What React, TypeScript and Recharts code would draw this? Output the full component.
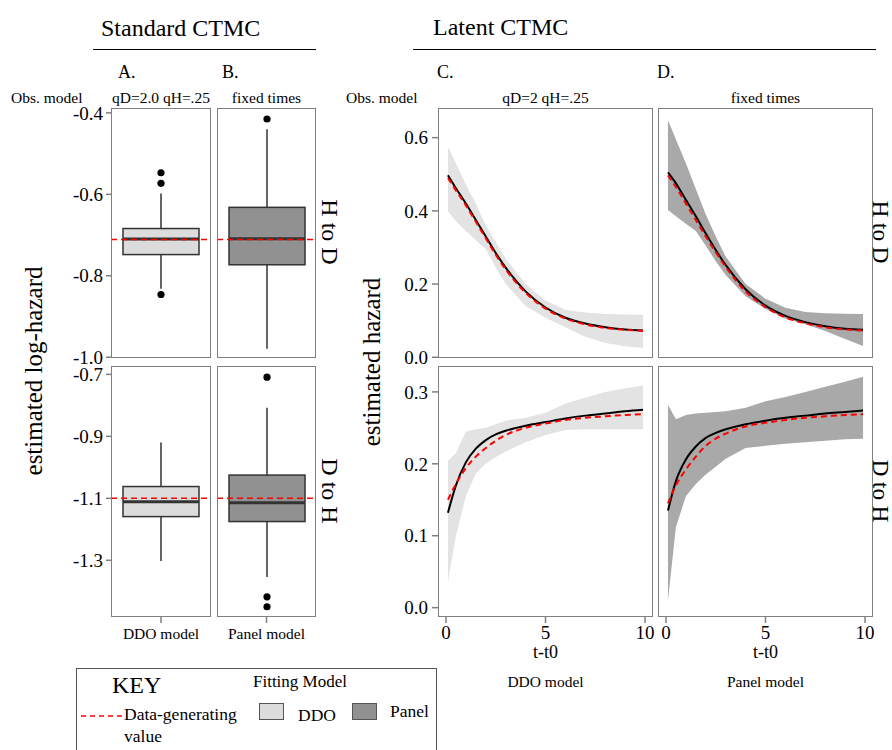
import React from 'react';
import { ComposedChart, Bar, Area, Line, XAxis, YAxis, ReferenceLine } from 'recharts';

const FONT = "'Liberation Serif', 'Times New Roman', Times, serif";
const FRAME = '#7f7f7f';
const DARK = '#333333';
const RED = '#ff0000';
const DDO_FILL = '#dcdcdc';
const PANEL_FILL = '#919191';
const PAD = 12;

// ---- Standard CTMC: box plot summaries (DDO model, Panel model) ----
const boxGroups = ['DDO model', 'Panel model'];

const hdWhiskerLow = [-0.832, -0.979];
const hdQ1 = [-0.748, -0.773];
const hdMedian = [-0.71, -0.709];
const hdQ3 = [-0.684, -0.632];
const hdWhiskerHigh = [-0.598, -0.44];
const hdOutliers = [[-0.547, -0.573, -0.846], [-0.415]];
const hdTrue = -0.711;

const dhWhiskerLow = [-1.302, -1.354];
const dhQ1 = [-1.159, -1.175];
const dhMedian = [-1.111, -1.114];
const dhQ3 = [-1.062, -1.025];
const dhWhiskerHigh = [-0.92, -0.808];
const dhOutliers = [[], [-0.709, -1.418, -1.45]];
const dhTrue = -1.1;

const hdLogTicks = [-1.0, -0.8, -0.6, -0.4];
const dhLogTicks = [-1.3, -1.1, -0.9, -0.7];

// ---- Latent CTMC: hazard curves over t - t0 ----
const tGrid = [0.1, 0.5, 1, 1.5, 2, 2.5, 3, 4, 5, 6, 7, 8, 9, 9.9];

// H to D, DDO model
const hdDdoFit = [0.497, 0.462, 0.42, 0.375, 0.33, 0.285, 0.245, 0.18, 0.136, 0.108, 0.092, 0.082, 0.076, 0.073];
const hdDdoTrue = [0.49, 0.456, 0.415, 0.37, 0.325, 0.28, 0.24, 0.176, 0.133, 0.106, 0.09, 0.08, 0.075, 0.072];
const hdDdoLo = [0.398, 0.372, 0.345, 0.32, 0.296, 0.245, 0.2, 0.14, 0.108, 0.082, 0.056, 0.039, 0.03, 0.025];
const hdDdoHi = [0.575, 0.53, 0.472, 0.42, 0.36, 0.315, 0.27, 0.2, 0.155, 0.13, 0.122, 0.118, 0.117, 0.116];

// H to D, Panel model
const hdPanelFit = [0.505, 0.475, 0.43, 0.385, 0.338, 0.293, 0.252, 0.186, 0.141, 0.113, 0.096, 0.085, 0.078, 0.075];
const hdPanelTrue = [0.497, 0.465, 0.42, 0.375, 0.33, 0.287, 0.247, 0.18, 0.137, 0.109, 0.093, 0.082, 0.076, 0.073];
const hdPanelLo = [0.402, 0.385, 0.365, 0.345, 0.305, 0.262, 0.225, 0.167, 0.132, 0.105, 0.09, 0.072, 0.05, 0.031];
const hdPanelHi = [0.648, 0.595, 0.53, 0.46, 0.39, 0.33, 0.275, 0.2, 0.16, 0.135, 0.124, 0.12, 0.119, 0.118];

// D to H, DDO model
const dhDdoFit = [0.132, 0.17, 0.202, 0.221, 0.233, 0.241, 0.246, 0.253, 0.258, 0.263, 0.267, 0.27, 0.273, 0.275];
const dhDdoTrue = [0.15, 0.172, 0.194, 0.21, 0.222, 0.232, 0.24, 0.25, 0.256, 0.261, 0.264, 0.266, 0.268, 0.269];
const dhDdoLo = [0.036, 0.1, 0.155, 0.187, 0.2, 0.209, 0.217, 0.23, 0.24, 0.247, 0.248, 0.248, 0.248, 0.248];
const dhDdoHi = [0.204, 0.215, 0.245, 0.248, 0.25, 0.255, 0.26, 0.264, 0.271, 0.284, 0.292, 0.3, 0.305, 0.309];

// D to H, Panel model
const dhPanelFit = [0.135, 0.176, 0.206, 0.224, 0.236, 0.243, 0.248, 0.255, 0.26, 0.264, 0.267, 0.27, 0.272, 0.274];
const dhPanelTrue = [0.145, 0.17, 0.192, 0.21, 0.225, 0.235, 0.242, 0.252, 0.257, 0.261, 0.264, 0.266, 0.268, 0.269];
const dhPanelLo = [0.01, 0.112, 0.155, 0.172, 0.185, 0.196, 0.207, 0.222, 0.225, 0.228, 0.23, 0.232, 0.234, 0.235];
const dhPanelHi = [0.282, 0.262, 0.268, 0.27, 0.271, 0.272, 0.273, 0.278, 0.287, 0.293, 0.3, 0.307, 0.314, 0.321];

const tTicks = [0, 5, 10];
const hdHazTicks = [0, 0.2, 0.4, 0.6];
const dhHazTicks = [0, 0.1, 0.2, 0.3];

const X_DOMAIN = [-0.4, 10.4];

const curveRows = (fit: number[], truth: number[], lo: number[], hi: number[]) =>
  tGrid.map((t, i) => ({ t, fit: fit[i], truth: truth[i], band: [lo[i], hi[i]] }));

// box drawn from the bar's [q1, q3] range; the other stats reuse the same scale
const BoxShape = (props: any) => {
  const { x, y, width, height, payload, fill } = props;
  const top = Math.min(y, y + height);
  const h = Math.abs(height);
  const [lo, hi] = payload.box;
  const k = h / (hi - lo);
  const py = (v: number) => top + (hi - v) * k;
  const cx = x + width / 2;
  return (
    <g>
      <line x1={cx} x2={cx} y1={py(payload.high)} y2={top} stroke={DARK} strokeWidth={1.5} />
      <line x1={cx} x2={cx} y1={top + h} y2={py(payload.low)} stroke={DARK} strokeWidth={1.5} />
      <rect x={x} y={top} width={width} height={h} fill={fill} stroke={DARK} strokeWidth={1.5} />
      <line x1={x} x2={x + width} y1={py(payload.med)} y2={py(payload.med)} stroke={DARK} strokeWidth={3} />
      {payload.outliers.map((v: number, i: number) => (
        <circle key={i} cx={cx} cy={py(v)} r={3.6} fill="#000" />
      ))}
    </g>
  );
};

const Frame = ({ left, top, width, height }: any) => (
  <div
    style={{
      position: 'absolute', left, top, width, height, boxSizing: 'border-box',
      border: `1.5px solid ${FRAME}`, pointerEvents: 'none',
    }}
  />
);

const Txt = ({ x, y, size, center, rotate, children }: any) => (
  <div
    style={{
      position: 'absolute', left: x, top: y, fontSize: size, fontFamily: FONT, lineHeight: 1,
      whiteSpace: 'nowrap', color: '#000',
      transform: `translate(${center ? '-50%' : '0'}, -50%)${rotate ? ` rotate(${rotate}deg)` : ''}`,
      transformOrigin: center ? 'center' : 'left center',
    }}
  >
    {children}
  </div>
);

const tickStyle = { fontSize: 19, fill: '#000', fontFamily: FONT };

function BoxPanel(props: any) {
  const { idx, low, q1, med, q3, high, outliers, truth, domain, ticks, showY, showX, left, top, plotW, plotH, fill } = props;
  const yW = showY ? 71 : 0;
  const xH = showX ? 34 : 0;
  const rows = [{
    group: boxGroups[idx], box: [q1[idx], q3[idx]], low: low[idx], med: med[idx], high: high[idx],
    outliers: outliers[idx],
  }];
  return (
    <>
      <div style={{ position: 'absolute', left: left - yW, top: top - PAD, fontFamily: FONT }}>
        <ComposedChart width={yW + plotW} height={plotH + xH + 2 * PAD} data={rows} margin={{ top: PAD, right: 0, bottom: PAD, left: 0 }}>
          <XAxis
            dataKey="group" type="category" hide={!showX} height={xH} axisLine={false} tickSize={6} tickMargin={5}
            tickLine={{ stroke: FRAME, strokeWidth: 1.5 }} tick={{ fontSize: 15.5, fill: '#000', fontFamily: FONT }}
          />
          <YAxis
            type="number" domain={domain} ticks={ticks} interval={0} allowDataOverflow hide={!showY} width={yW}
            axisLine={false} tickSize={5} tickMargin={3} tickLine={{ stroke: FRAME, strokeWidth: 1.5 }}
            tickFormatter={(v: number) => v.toFixed(1)} tick={tickStyle}
          />
          <Bar dataKey="box" fill={fill} barSize={76} shape={<BoxShape />} isAnimationActive={false} />
          <ReferenceLine y={truth} stroke={RED} strokeWidth={1.6} strokeDasharray="6 4" />
        </ComposedChart>
      </div>
      <Frame left={left} top={top} width={plotW} height={plotH} />
    </>
  );
}

function CurvePanel(props: any) {
  const { rows, bandFill, domain, ticks, showY, showX, left, top, plotW, plotH } = props;
  const yW = showY ? 50 : 0;
  const xH = showX ? 28 : 0;
  return (
    <>
      <div style={{ position: 'absolute', left: left - yW, top: top - PAD, fontFamily: FONT }}>
        <ComposedChart width={yW + plotW + PAD} height={plotH + xH + 2 * PAD} data={rows} margin={{ top: PAD, right: PAD, bottom: PAD, left: 0 }}>
          <XAxis
            dataKey="t" type="number" domain={X_DOMAIN} ticks={tTicks} interval={0} allowDataOverflow hide={!showX} height={xH}
            axisLine={false} tickSize={6} tickMargin={3} tickLine={{ stroke: FRAME, strokeWidth: 1.5 }} tick={tickStyle}
          />
          <YAxis
            type="number" domain={domain} ticks={ticks} interval={0} allowDataOverflow hide={!showY} width={yW}
            axisLine={false} tickSize={6} tickMargin={4} tickLine={{ stroke: FRAME, strokeWidth: 1.5 }}
            tickFormatter={(v: number) => v.toFixed(1)} tick={tickStyle}
          />
          <Area dataKey="band" type="linear" fill={bandFill} fillOpacity={1} stroke="none" isAnimationActive={false} />
          <Line dataKey="fit" type="monotone" stroke="#000" strokeWidth={2} dot={false} isAnimationActive={false} />
          <Line dataKey="truth" type="monotone" stroke={RED} strokeWidth={2} strokeDasharray="6 4" dot={false} isAnimationActive={false} />
        </ComposedChart>
      </div>
      <Frame left={left} top={top} width={plotW} height={plotH} />
    </>
  );
}

export default function App() {
  const topY = 108, topH = 250, botY = 366, botH = 251;
  const hdLogDomain = [-1.002, -0.388];
  const dhLogDomain = [-1.483, -0.673];
  const hdHazDomain = [-0.002, 0.681];
  const dhHazDomain = [-0.013, 0.336];
  return (
    <div style={{ position: 'absolute', left: 0, top: 0, width: 892, height: 750, overflow: 'hidden', background: '#fff', fontFamily: FONT }}>
      {/* headers */}
      <Txt x={101} y={28} size={24}>Standard CTMC</Txt>
      <div style={{ position: 'absolute', left: 93, top: 49, width: 223, borderTop: '1.5px solid #000' }} />
      <Txt x={433} y={27} size={24}>Latent CTMC</Txt>
      <div style={{ position: 'absolute', left: 413, top: 49, width: 463, borderTop: '1.5px solid #000' }} />

      <Txt x={118} y={72} size={18}>A.</Txt>
      <Txt x={222} y={72} size={18}>B.</Txt>
      <Txt x={437} y={72} size={18}>C.</Txt>
      <Txt x={657} y={72} size={18}>D.</Txt>

      <Txt x={11} y={98} size={15.5}>Obs. model</Txt>
      <Txt x={346} y={98} size={15.5}>Obs. model</Txt>
      <Txt x={161} y={98} size={15.5} center>qD=2.0 qH=.25</Txt>
      <Txt x={266.5} y={98} size={15.5} center>fixed times</Txt>
      <Txt x={545.5} y={98} size={15.5} center>qD=2 qH=.25</Txt>
      <Txt x={765.5} y={98} size={15.5} center>fixed times</Txt>

      {/* standard CTMC box plots */}
      <BoxPanel idx={0} low={hdWhiskerLow} q1={hdQ1} med={hdMedian} q3={hdQ3} high={hdWhiskerHigh} outliers={hdOutliers}
        truth={hdTrue} domain={hdLogDomain} ticks={hdLogTicks} showY showX={false} left={111} top={topY} plotW={100} plotH={topH} fill={DDO_FILL} />
      <BoxPanel idx={1} low={hdWhiskerLow} q1={hdQ1} med={hdMedian} q3={hdQ3} high={hdWhiskerHigh} outliers={hdOutliers}
        truth={hdTrue} domain={hdLogDomain} ticks={hdLogTicks} showY={false} showX={false} left={217} top={topY} plotW={99} plotH={topH} fill={PANEL_FILL} />
      <BoxPanel idx={0} low={dhWhiskerLow} q1={dhQ1} med={dhMedian} q3={dhQ3} high={dhWhiskerHigh} outliers={dhOutliers}
        truth={dhTrue} domain={dhLogDomain} ticks={dhLogTicks} showY showX left={111} top={botY} plotW={100} plotH={botH} fill={DDO_FILL} />
      <BoxPanel idx={1} low={dhWhiskerLow} q1={dhQ1} med={dhMedian} q3={dhQ3} high={dhWhiskerHigh} outliers={dhOutliers}
        truth={dhTrue} domain={dhLogDomain} ticks={dhLogTicks} showY={false} showX left={217} top={botY} plotW={99} plotH={botH} fill={PANEL_FILL} />

      {/* latent CTMC curves */}
      <CurvePanel rows={curveRows(hdDdoFit, hdDdoTrue, hdDdoLo, hdDdoHi)} bandFill="#e3e3e3" domain={hdHazDomain} ticks={hdHazTicks}
        showY showX={false} left={438} top={topY} plotW={215} plotH={topH} />
      <CurvePanel rows={curveRows(hdPanelFit, hdPanelTrue, hdPanelLo, hdPanelHi)} bandFill="#a9a9a9" domain={hdHazDomain} ticks={hdHazTicks}
        showY={false} showX={false} left={658} top={topY} plotW={215} plotH={topH} />
      <CurvePanel rows={curveRows(dhDdoFit, dhDdoTrue, dhDdoLo, dhDdoHi)} bandFill="#e3e3e3" domain={dhHazDomain} ticks={dhHazTicks}
        showY showX left={438} top={botY} plotW={215} plotH={botH} />
      <CurvePanel rows={curveRows(dhPanelFit, dhPanelTrue, dhPanelLo, dhPanelHi)} bandFill="#a9a9a9" domain={dhHazDomain} ticks={dhHazTicks}
        showY={false} showX left={658} top={botY} plotW={215} plotH={botH} />

      {/* strip labels and axis titles */}
      <Txt x={330} y={232} size={24} center rotate={90}>H to D</Txt>
      <Txt x={330} y={491} size={24} center rotate={90}>D to H</Txt>
      <Txt x={880} y={232} size={23} center rotate={90}>H to D</Txt>
      <Txt x={880} y={491} size={23} center rotate={90}>D to H</Txt>
      <Txt x={33} y={371} size={25} center rotate={-90}>estimated log-hazard</Txt>
      <Txt x={371} y={362} size={25} center rotate={-90}>estimated hazard</Txt>

      <Txt x={545.5} y={652} size={18} center>t-t0</Txt>
      <Txt x={765.5} y={652} size={18} center>t-t0</Txt>
      <Txt x={545.5} y={682} size={15.5} center>DDO model</Txt>
      <Txt x={765.5} y={682} size={15.5} center>Panel model</Txt>

      {/* key */}
      <div style={{ position: 'absolute', left: 76, top: 668, width: 361, height: 100, boxSizing: 'border-box', border: '1.5px solid #555' }} />
      <Txt x={112} y={685} size={24}>KEY</Txt>
      <Txt x={253} y={681} size={17}>Fitting Model</Txt>
      <svg style={{ position: 'absolute', left: 81, top: 712 }} width={42} height={8}>
        <line x1={0} x2={42} y1={4} y2={4} stroke={RED} strokeWidth={1.5} strokeDasharray="5 4" />
      </svg>
      <Txt x={124} y={715} size={17.5}>Data-generating</Txt>
      <Txt x={124} y={737} size={17.5}>value</Txt>
      <div style={{ position: 'absolute', left: 259, top: 703, width: 25, height: 17, boxSizing: 'border-box', background: DDO_FILL, border: '1.5px solid #555' }} />
      <Txt x={298} y={716} size={17.5}>DDO</Txt>
      <div style={{ position: 'absolute', left: 352, top: 703, width: 25, height: 17, boxSizing: 'border-box', background: PANEL_FILL, border: '1.5px solid #555' }} />
      <Txt x={390} y={712} size={17.5}>Panel</Txt>
    </div>
  );
}
